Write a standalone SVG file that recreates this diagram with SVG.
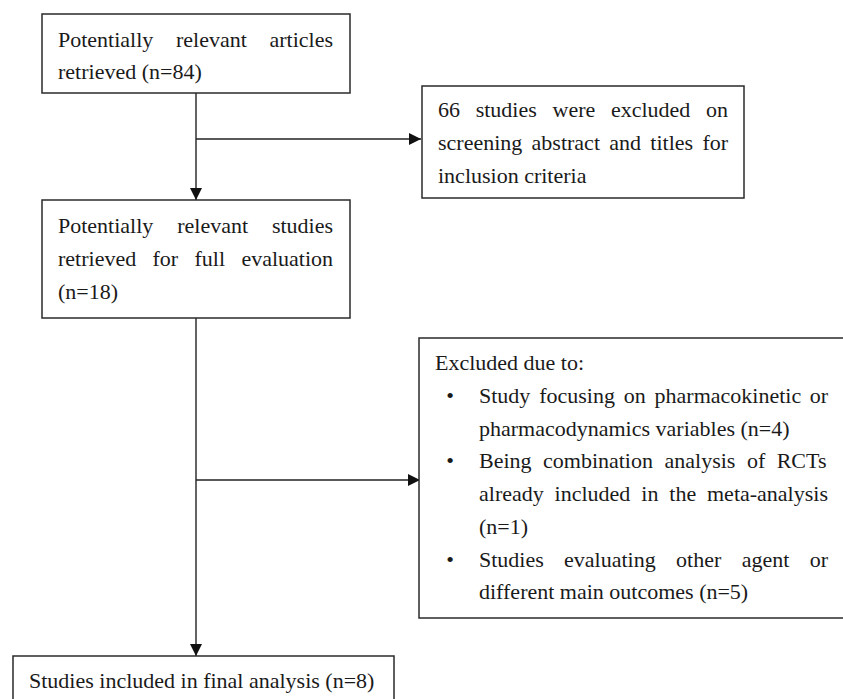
<svg xmlns="http://www.w3.org/2000/svg" width="843" height="699" viewBox="0 0 843 699">
<defs>
<style>
.box{fill:#fff;stroke:#2a2a2a;stroke-width:1.5}
.t{font-family:"Liberation Serif","Times New Roman",serif;font-size:22px;fill:#1a1a1a}
.c{fill:none;stroke:#222;stroke-width:1.4}
</style>
<marker id="ah" viewBox="0 0 12 12" refX="12" refY="6" markerWidth="12" markerHeight="12" markerUnits="userSpaceOnUse" orient="auto">
<path d="M0,0 L12,6 L0,12 Z" fill="#111"/>
</marker>
</defs>
<rect width="843" height="699" fill="#fff"/>
<g id="connectors">
<line class="c" x1="196" y1="93" x2="196" y2="200" marker-end="url(#ah)"/>
<line class="c" x1="196" y1="139" x2="421" y2="139" marker-end="url(#ah)"/>
<line class="c" x1="196" y1="318" x2="196" y2="656" marker-end="url(#ah)"/>
<line class="c" x1="196" y1="480" x2="420" y2="480" marker-end="url(#ah)"/>
</g>
<g id="n1">
<rect class="box" x="42" y="14" width="308" height="79"/>
<text class="t" y="47"><tspan x="58">Potentially</tspan><tspan x="176">relevant</tspan><tspan x="269.5">articles</tspan></text>
<text class="t" x="58" y="79">retrieved (n=84)</text>
</g>
<g id="n2">
<rect class="box" x="422" y="86" width="322" height="112"/>
<text class="t" y="117"><tspan x="438">66</tspan><tspan x="475.7">studies</tspan><tspan x="552.5">were</tspan><tspan x="610.9">excluded</tspan><tspan x="706">on</tspan></text>
<text class="t" y="150"><tspan x="438">screening</tspan><tspan x="531.6">abstract</tspan><tspan x="609.3">and</tspan><tspan x="650.3">titles</tspan><tspan x="702.4">for</tspan></text>
<text class="t" x="438" y="183">inclusion criteria</text>
</g>
<g id="n3">
<rect class="box" x="42" y="200" width="308" height="118"/>
<text class="t" y="233"><tspan x="58">Potentially</tspan><tspan x="177.2">relevant</tspan><tspan x="271.9">studies</tspan></text>
<text class="t" y="265.5"><tspan x="58">retrieved</tspan><tspan x="152.5">for</tspan><tspan x="194.5">full</tspan><tspan x="241.4">evaluation</tspan></text>
<text class="t" x="58" y="298.5">(n=18)</text>
</g>
<g id="n4">
<rect class="box" x="419" y="338" width="430" height="280"/>
<text class="t" x="435" y="370">Excluded due to:</text>
<text class="t" x="450" y="403" text-anchor="middle">•</text>
<text class="t" y="403"><tspan x="479">Study</tspan><tspan x="539.2">focusing</tspan><tspan x="623.8">on</tspan><tspan x="654.6">pharmacokinetic</tspan><tspan x="809.7">or</tspan></text>
<text class="t" x="479" y="435.5">pharmacodynamics variables (n=4)</text>
<text class="t" x="450" y="468" text-anchor="middle">•</text>
<text class="t" y="468"><tspan x="479">Being</tspan><tspan x="543">combination</tspan><tspan x="664.5">analysis</tspan><tspan x="746.9">of</tspan><tspan x="776.7">RCTs</tspan></text>
<text class="t" y="501"><tspan x="479">already</tspan><tspan x="554.6">included</tspan><tspan x="641.3">in</tspan><tspan x="669.3">the</tspan><tspan x="707">meta-analysis</tspan></text>
<text class="t" x="479" y="533.5">(n=1)</text>
<text class="t" x="450" y="566.5" text-anchor="middle">•</text>
<text class="t" y="566.5"><tspan x="479">Studies</tspan><tspan x="564.1">evaluating</tspan><tspan x="676.1">other</tspan><tspan x="741.7">agent</tspan><tspan x="809.7">or</tspan></text>
<text class="t" x="479" y="599">different main outcomes (n=5)</text>
</g>
<g id="n5">
<rect class="box" x="13" y="656" width="381" height="50"/>
<text class="t" x="29" y="688">Studies included in final analysis (n=8)</text>
</g>
</svg>
